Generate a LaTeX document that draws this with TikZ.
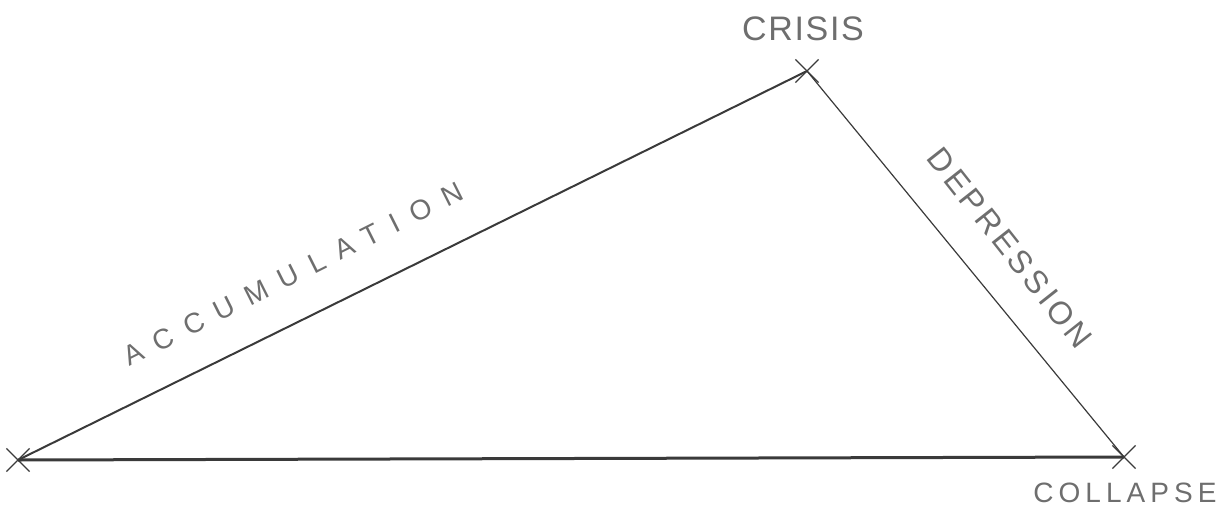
\documentclass[tikz,border=0pt]{standalone}
\usepackage{fontspec}
\usetikzlibrary{shapes.misc}
\setmainfont{Liberation Sans}
\newfontfamily\labA[LetterSpace=50]{Liberation Sans}
\newfontfamily\labD[LetterSpace=12]{Liberation Sans}
\newfontfamily\labC[LetterSpace=5]{Liberation Sans}
\newfontfamily\labL[LetterSpace=18]{Liberation Sans}
\definecolor{ink}{HTML}{3A3A3A}
\definecolor{pencil}{HTML}{6E6E6E}
\tikzset{
  vertex/.style={cross out, draw=ink, line width=0.6pt, minimum size=11pt, inner sep=0pt},
  lbl/.style={text=pencil, inner sep=0pt},
}
\begin{document}
\begin{tikzpicture}[x=0.5pt, y=-0.5pt]
\useasboundingbox (0,0) rectangle (1228,510);
\node[vertex] (acc) at (18,460) {};
\node[vertex] (cri) at (807,71) {};
\node[vertex] (col) at (1124,457) {};
\draw[ink, line width=1.0pt] (acc.center) -- (cri.center);
\draw[ink, line width=0.6pt] (cri.center) -- (col.center);
\draw[ink, line width=1.5pt] (acc.center) -- (col.center);
\node[lbl, font=\labC\fontsize{17}{20}\selectfont] (tcri) at (803,29) {CRISIS};
\node[lbl, font=\labL\fontsize{14}{17}\selectfont] (tcol) at (1125,493) {COLLAPSE};
\node[lbl, font=\labA\fontsize{14}{17}\selectfont, rotate=26.6] (tacc) at (293,274) {ACCUMULATION};
\node[lbl, font=\labD\fontsize{16}{19}\selectfont, rotate=-51.7] (tdep) at (1010,248) {DEPRESSION};
\end{tikzpicture}
\end{document}
